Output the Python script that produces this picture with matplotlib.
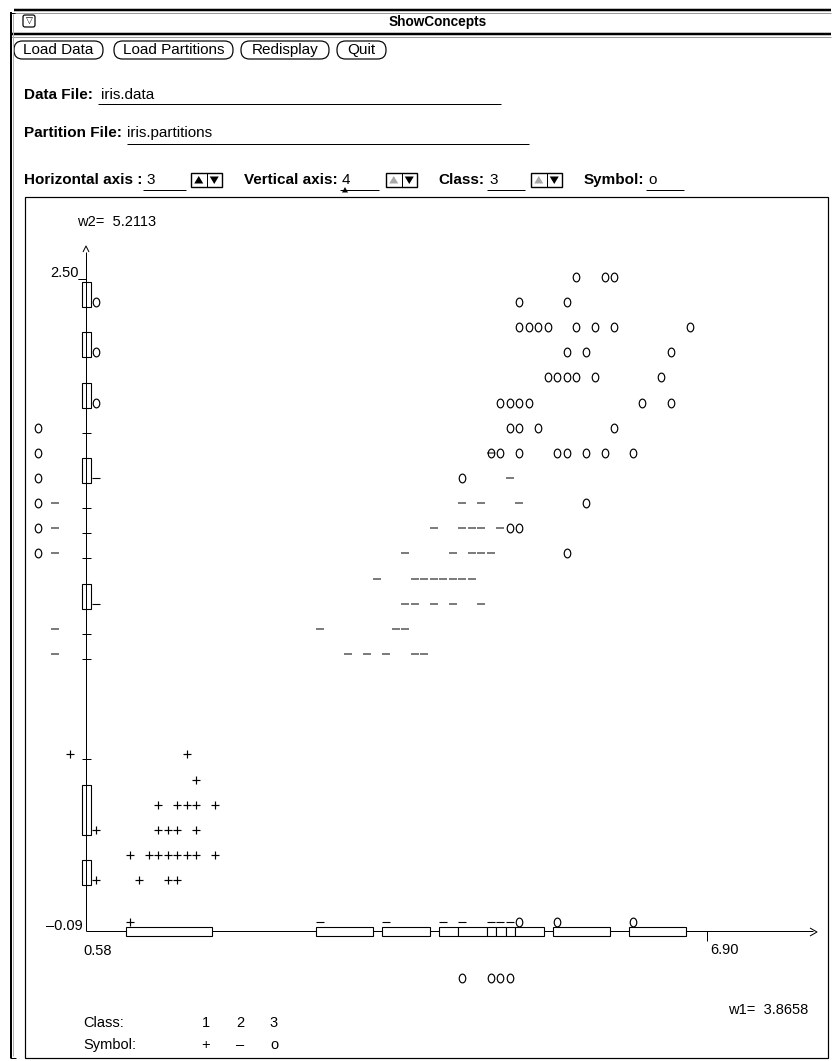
import matplotlib
matplotlib.use("Agg")
import matplotlib.pyplot as plt
from matplotlib import font_manager
from matplotlib.patches import Rectangle, FancyBboxPatch, Polygon
from matplotlib.path import Path
from matplotlib.transforms import Affine2D

# ---------------- data : petal length (horizontal axis 3) vs petal width (vertical axis 4) -------------
setosa_length = [1.1, 1.4, 1.5,
                 1.0, 1.2, 1.3, 1.4, 1.5, 1.6, 1.7, 1.9,
                 1.3, 1.4, 1.5, 1.7,
                 1.3, 1.5, 1.6, 1.7, 1.9,
                 1.7,
                 1.6]
setosa_width = [0.1, 0.1, 0.1,
                0.2, 0.2, 0.2, 0.2, 0.2, 0.2, 0.2, 0.2,
                0.3, 0.3, 0.3, 0.3,
                0.4, 0.4, 0.4, 0.4, 0.4,
                0.5,
                0.6]

versicolor_length = [3.3, 3.5, 3.7, 4.0, 4.1,
                     3.0, 3.8, 3.9,
                     3.9, 4.0, 4.2, 4.4, 4.7,
                     3.6, 4.0, 4.1, 4.2, 4.3, 4.4, 4.5, 4.6,
                     3.9, 4.4, 4.6, 4.7, 4.8,
                     4.2, 4.5, 4.6, 4.7, 4.9,
                     4.5, 4.7, 5.1,
                     5.0,
                     4.8]
versicolor_width = [1.0, 1.0, 1.0, 1.0, 1.0,
                    1.1, 1.1, 1.1,
                    1.2, 1.2, 1.2, 1.2, 1.2,
                    1.3, 1.3, 1.3, 1.3, 1.3, 1.3, 1.3, 1.3,
                    1.4, 1.4, 1.4, 1.4, 1.4,
                    1.5, 1.5, 1.5, 1.5, 1.5,
                    1.6, 1.6, 1.6,
                    1.7,
                    1.8]

virginica_length = [5.6,
                    5.0, 5.1,
                    5.8,
                    4.5,
                    4.8, 4.9, 5.1, 5.5, 5.6, 5.8, 6.0, 6.3,
                    5.0, 5.1, 5.3, 6.1,
                    4.9, 5.0, 5.1, 5.2, 6.4, 6.7,
                    5.4, 5.5, 5.6, 5.7, 5.9, 6.6,
                    5.6, 5.8, 6.7,
                    5.1, 5.2, 5.3, 5.4, 5.7, 5.9, 6.1, 6.9,
                    5.1, 5.6,
                    5.7, 6.0, 6.1]
virginica_width = [1.4,
                   1.5, 1.5,
                   1.6,
                   1.7,
                   1.8, 1.8, 1.8, 1.8, 1.8, 1.8, 1.8, 1.8,
                   1.9, 1.9, 1.9, 1.9,
                   2.0, 2.0, 2.0, 2.0, 2.0, 2.0,
                   2.1, 2.1, 2.1, 2.1, 2.1, 2.1,
                   2.2, 2.2, 2.2,
                   2.3, 2.3, 2.3, 2.3, 2.3, 2.3, 2.3, 2.3,
                   2.4, 2.4,
                   2.5, 2.5, 2.5]

# partitions on the horizontal axis (start, end, class)
x_part_start = [1.0, 3.0, 3.7, 4.3, 4.5, 4.8, 4.9, 5.0, 5.1, 5.5, 6.3]
x_part_end = [1.9, 3.6, 4.2, 4.5, 4.8, 4.9, 5.0, 5.1, 5.4, 6.1, 6.9]
x_part_class = [1, 2, 2, 2, 2, 2, 2, 2, 3, 3, 3]
# partitions on the vertical axis
y_part_start = [2.4, 2.2, 2.0, 1.7, 1.2, 0.3, 0.1]
y_part_end = [2.5, 2.3, 2.1, 1.8, 1.3, 0.5, 0.2]
y_part_class = [3, 3, 3, 2, 2, 1, 1]
y_cut_marks = [1.9, 1.6, 1.5, 1.4, 1.1, 1.0, 0.6]

# overlapping values projected beside the axes
left_class3_width = [1.9, 1.8, 1.7, 1.6, 1.5, 1.4]
left_class2_width = [1.6, 1.5, 1.4, 1.1, 1.0]
left_class1_width = [0.6]
below_class3_length = [4.5, 4.8, 4.9, 5.0]

class_labels = ["1", "2", "3"]
class_symbols = ["+", "\u2013", "o"]

axis_min_label_x = "0.58"
axis_max_label_x = "6.90"
axis_min_label_y = "\u20130.09"
axis_max_label_y = "2.50_"
w1_text = "w1=  3.8658"
w2_text = "w2=  5.2113"

# ---------------- layout ----------------
W, H = 832, 1061
PX_L1, PX_PER_L = 130.0, 94.9      # pixel column of length 1.0, pixels per unit
PY_W25, PY_PER_W = 277.0, 251.25   # pixel row of width 2.5, pixels per unit
PT = 0.72                           # one pixel in points

avail = {f.name for f in font_manager.fontManager.ttflist}


def pick(*names):
    for n in names:
        if n in avail:
            return n
    return "DejaVu Sans"


SANS = pick("Liberation Sans", "Arimo", "DejaVu Sans")
UI_SIZE = 11
PLT = 10.5

fig = plt.figure(figsize=(W / 100, H / 100), dpi=100)
ui = fig.add_axes([0, 0, 1, 1])
ui.set_xlim(0, W)
ui.set_ylim(H, 0)
ui.axis("off")

ax = fig.add_axes([0, 0, 1, 1], facecolor="none")
ax.set_xlim(1.0 - PX_L1 / PX_PER_L, 1.0 + (W - PX_L1) / PX_PER_L)
ax.set_ylim(2.5 - (H - PY_W25) / PY_PER_W, 2.5 + PY_W25 / PY_PER_W)
ax.axis("off")


def line(a, xs, ys, lw=1.0, color="k", z=2):
    a.plot(xs, ys, color=color, lw=lw * PT, solid_capstyle="butt", zorder=z)


def txt(x, y, s, size=UI_SIZE, weight="normal", ha="left", va="center", color="k"):
    ui.text(x, y, s, fontsize=size, fontweight=weight, ha=ha, va=va,
            family=SANS, color=color)


# ---------------- window chrome ----------------
line(ui, [14, 831], [10, 10], lw=2.5)
line(ui, [14, 831], [12.5, 12.5], lw=1, color="#9a9a9a")
line(ui, [11, 831], [33.5, 33.5], lw=2.5)
line(ui, [11, 831], [36.5, 36.5], lw=1, color="#9a9a9a")
line(ui, [10.5, 10.5], [12, 1058], lw=2)
line(ui, [13, 13], [14, 1056], lw=1, color="#b0b0b0")
line(ui, [10, 15], [12.5, 12.5], lw=1)
line(ui, [10, 16], [1058, 1058], lw=1)

ui.add_patch(FancyBboxPatch((23, 15), 12, 12, boxstyle="round,pad=0,rounding_size=2",
                            fc="white", ec="k", lw=1.2 * PT))
ui.text(29, 21.5, "\u25bd", fontsize=6.5, ha="center", va="center", family="DejaVu Sans")
txt(438, 22, "ShowConcepts", size=9.8, weight="bold", ha="center")

# buttons
buttons = [("Load Data", 14, 103), ("Load Partitions", 114, 233),
           ("Redisplay", 241, 329), ("Quit", 337, 386)]
for label, x0, x1 in buttons:
    ui.add_patch(FancyBboxPatch((x0, 41), x1 - x0, 18, boxstyle="round,pad=0,rounding_size=8.5",
                                fc="white", ec="k", lw=1.2 * PT))
    txt((x0 + x1) / 2, 50, label, ha="center")

# text fields
txt(24, 95, "Data File:", weight="bold")
txt(101, 95, "iris.data")
line(ui, [98, 501], [104, 104], lw=1)
txt(24, 133, "Partition File:", weight="bold")
txt(127, 133, "iris.partitions")
line(ui, [127, 529], [144, 144], lw=1)


def spin(x0, up_grey=False):
    y0, w, h = 173, 31, 14
    ui.add_patch(Rectangle((x0, y0), w, h, fc="white", ec="k", lw=1.4 * PT))
    line(ui, [x0 + w / 2, x0 + w / 2], [y0, y0 + h], lw=1)
    cu = x0 + w / 4
    cd = x0 + 3 * w / 4
    ui.add_patch(Polygon([(cu - 4.5, y0 + h - 3.5), (cu + 4.5, y0 + h - 3.5), (cu, y0 + 3)],
                         closed=True, fc="#a8a8a8" if up_grey else "k", ec="none"))
    ui.add_patch(Polygon([(cd - 4.5, y0 + 3.5), (cd + 4.5, y0 + 3.5), (cd, y0 + h - 3)],
                         closed=True, fc="k", ec="none"))


txt(24, 180, "Horizontal axis :", weight="bold")
txt(146, 180, "3")
line(ui, [143, 186], [189.5, 189.5], lw=1)
spin(191)
txt(244, 180, "Vertical axis:", weight="bold")
txt(342, 180, "4")
line(ui, [340, 379], [189.5, 189.5], lw=1)
ui.add_patch(Polygon([(342, 192.5), (348, 192.5), (345, 187)], closed=True, fc="k", ec="none"))
spin(386, up_grey=True)
txt(438, 180, "Class:", weight="bold")
txt(489, 180, "3")
line(ui, [487, 525], [189.5, 189.5], lw=1)
spin(531, up_grey=True)
txt(584, 180, "Symbol:", weight="bold")
txt(648, 180, "o")
line(ui, [646, 684], [189.5, 189.5], lw=1)

# plot panel
ui.add_patch(Rectangle((25, 197), 803, 861, fc="none", ec="k", lw=1.2 * PT))

# ---------------- plot ----------------
X0, Y0 = 0.536, -0.103     # axes origin in data units
X_END, Y_END = 8.197, 2.60
BOX_DX, BOX_DY = -0.04, -0.02
XBOX_LO, XBOX_HI = -0.123, -0.087
YBOX_LO, YBOX_HI = 0.494, 0.589

line(ax, [X0, X0], [Y0, Y_END], lw=1)
line(ax, [X0, X_END], [Y0, Y0], lw=1)
line(ax, [7.081, 7.081], [Y0, -0.143], lw=1)        # 6.90 tick
# arrow heads
line(ui, [83, 86, 89], [252, 246, 252], lw=1)
line(ui, [810, 817, 810], [928, 932, 936], lw=1)

sym_style = {
    1: dict(marker="+", ms=5.4, mew=0.85, color="k"),
    2: dict(marker="_", ms=5.2, mew=1.15, color="#5c5c5c"),
}
ell = Path.unit_circle().transformed(Affine2D().scale(0.75, 1.0))
sym_style[3] = dict(marker=ell, ms=6.3, mew=0.85, mfc="none", mec="k", color="k")

ax.plot(setosa_length, setosa_width, ls="none", zorder=4, **sym_style[1])
ax.plot(versicolor_length, versicolor_width, ls="none", zorder=4, **sym_style[2])
ax.plot(virginica_length, virginica_width, ls="none", zorder=4, **sym_style[3])

part_style = dict(sym_style)
part_style[2] = dict(marker="_", ms=5.2, mew=0.8, color="k")

# horizontal-axis partitions
for s, e, c in zip(x_part_start, x_part_end, x_part_class):
    ax.add_patch(Rectangle((s + BOX_DX, XBOX_LO), e - s, XBOX_HI - XBOX_LO,
                           fc="white", ec="k", lw=1.1 * PT, zorder=3))
    ax.plot([s], [Y0 + 0.036], ls="none", zorder=4, **part_style[c])

# vertical-axis partitions
for s, e, c in zip(y_part_start, y_part_end, y_part_class):
    ax.add_patch(Rectangle((YBOX_LO, s + BOX_DY), YBOX_HI - YBOX_LO, e - s,
                           fc="none", ec="k", lw=1.1 * PT, zorder=3))
    ax.plot([0.6365], [s], ls="none", zorder=4, **part_style[c])
for m in y_cut_marks:
    line(ax, [YBOX_LO, YBOX_HI], [m + BOX_DY, m + BOX_DY], lw=1)

# overlap projections
ax.plot([0.03] * len(left_class3_width), left_class3_width, ls="none", **sym_style[3])
ax.plot([0.21] * len(left_class2_width), left_class2_width, ls="none", **sym_style[2])
ax.plot([0.368] * len(left_class1_width), left_class1_width, ls="none", **sym_style[1])
ax.plot(below_class3_length, [-0.29] * len(below_class3_length), ls="none", **sym_style[3])

# axis texts
ui.text(77, 226, w2_text, fontsize=PLT, ha="left", va="baseline", family=SANS)
ui.text(87, 276, axis_max_label_y, fontsize=PLT, ha="right", va="baseline", family=SANS)
ui.text(83, 930, axis_min_label_y, fontsize=PLT, ha="right", va="baseline", family=SANS)
ui.text(83, 955, axis_min_label_x, fontsize=PLT, ha="left", va="baseline", family=SANS)
ui.text(710, 954, axis_max_label_x, fontsize=PLT, ha="left", va="baseline", family=SANS)
ui.text(728, 1014, w1_text, fontsize=PLT, ha="left", va="baseline", family=SANS)

# legend
ui.text(83, 1027, "Class:", fontsize=PLT, ha="left", va="baseline", family=SANS)
ui.text(83, 1049, "Symbol:", fontsize=PLT, ha="left", va="baseline", family=SANS)
for lab, sym, xc in zip(class_labels, class_symbols, [206, 240, 274]):
    ui.text(xc, 1027, lab, fontsize=PLT, ha="center", va="baseline", family=SANS)
    ui.text(xc, 1049, sym, fontsize=PLT, ha="center", va="baseline", family=SANS)

fig.savefig("out.png", dpi=100)
